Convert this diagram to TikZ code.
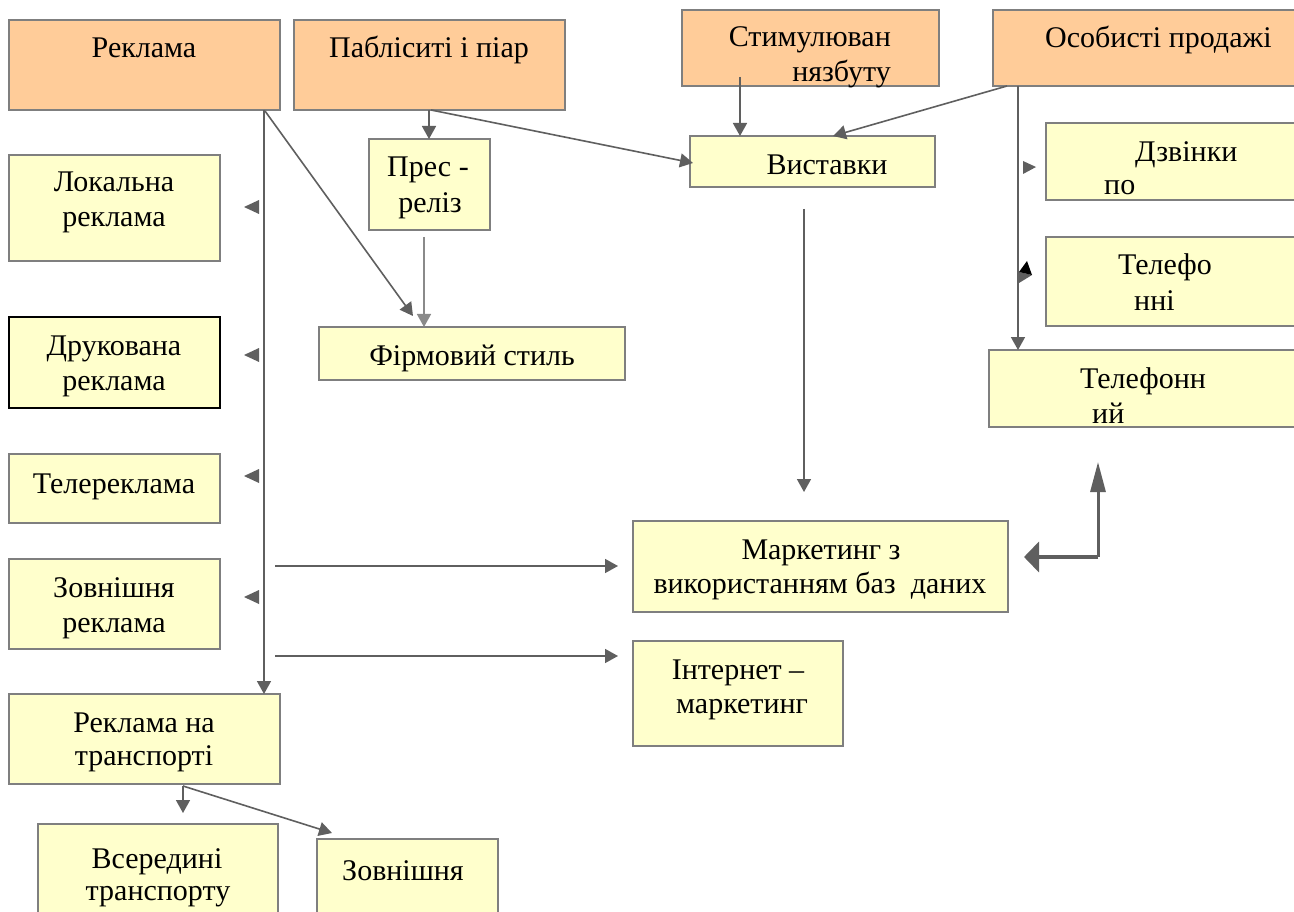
\documentclass[tikz,border=0pt]{standalone}
\usepackage{fontspec}
\setmainfont{Liberation Serif}
\usetikzlibrary{arrows.meta,calc}
\definecolor{orangebox}{HTML}{FFCC99}
\definecolor{yellowbox}{HTML}{FFFFCC}
\definecolor{boxline}{HTML}{7F7F7F}
\definecolor{arrc}{HTML}{5F5F5F}
\definecolor{arrlight}{HTML}{8A8A8A}
\tikzset{
  box/.style={draw=boxline, line width=2pt, anchor=north west, inner sep=0pt, outer sep=0pt},
  obox/.style={box, fill=orangebox},
  ybox/.style={box, fill=yellowbox},
  txt/.style={font=\fontsize{30}{35}\selectfont, inner sep=0pt, anchor=base},
  arr/.style={draw=arrc, line width=1.6pt, -{Triangle[length=13pt,width=14pt]}},
  tip/.style={fill=arrc},
}
\begin{document}
\begin{tikzpicture}[x=1pt,y=-1pt]
\useasboundingbox (0,0) rectangle (1294,912);
\clip (0,0) rectangle (1294,912);
\fill[white] (0,0) rectangle (1294,912);

% boxes
\node[obox, minimum width=271pt, minimum height=90pt] (rek) at (9,20) {};
\node[obox, minimum width=271pt, minimum height=90pt] (pab) at (294,20) {};
\node[obox, minimum width=257pt, minimum height=76pt] (stim) at (682,10) {};
\node[obox, minimum width=320pt, minimum height=76pt] (osob) at (993,10) {};
\node[ybox, minimum width=121pt, minimum height=91pt] (pres) at (369,139) {};
\node[ybox, minimum width=245pt, minimum height=51pt] (vyst) at (690,136) {};
\node[ybox, minimum width=211pt, minimum height=106pt] (lok) at (9,155) {};
\node[ybox, minimum width=260pt, minimum height=77pt] (dzv) at (1046,123) {};
\node[ybox, minimum width=260pt, minimum height=89pt] (telfo) at (1046,237) {};
\node[ybox, minimum width=306pt, minimum height=53pt] (firm) at (319,327) {};
\node[ybox, draw=black, minimum width=211pt, minimum height=91pt] (druk) at (9,317) {};
\node[ybox, minimum width=320pt, minimum height=77pt] (telfon) at (989,350) {};
\node[ybox, minimum width=211pt, minimum height=69pt] (telr) at (9,454) {};
\node[ybox, minimum width=375pt, minimum height=91pt] (mark) at (633,521) {};
\node[ybox, minimum width=211pt, minimum height=90pt] (zovn) at (9,559) {};
\node[ybox, minimum width=210pt, minimum height=105pt] (inet) at (633,641) {};
\node[ybox, minimum width=271pt, minimum height=90pt] (trans) at (9,694) {};
\node[ybox, minimum width=240pt, minimum height=100pt] (vser) at (38,824) {};
\node[ybox, minimum width=181pt, minimum height=90pt] (zovt) at (317,839) {};

% texts
\node[txt] (t-rek) at (144,58) {Реклама};
\node[txt] (t-pab) at (429,58) {Пабліситі і піар};
\node[txt, anchor=base east] (t-stim1) at (891,47) {Стимулюван};
\node[txt, anchor=base east] (t-stim2) at (891,82) {нязбуту};
\node[txt, anchor=base west] (t-osob) at (1045,48) {Особисті продажі};
\node[txt] (t-pres1) at (428,177) {Прес -};
\node[txt] (t-pres2) at (430,213) {реліз};
\node[txt] (t-vyst) at (827,175) {Виставки};
\node[txt] (t-lok1) at (114,192) {Локальна};
\node[txt] (t-lok2) at (114,227) {реклама};
\node[txt, anchor=base west] (t-dzv1) at (1135,162) {Дзвінки};
\node[txt, anchor=base west] (t-dzv2) at (1104,195) {по};
\node[txt, anchor=base west] (t-telfo1) at (1118,275) {Телефо};
\node[txt, anchor=base west] (t-telfo2) at (1134,310) {нні};
\node[txt] (t-firm) at (472,365) {Фірмовий стиль};
\node[txt] (t-druk1) at (114,355) {Друкована};
\node[txt] (t-druk2) at (114,390) {реклама};
\node[txt, anchor=base west] (t-telfon1) at (1080,388) {Телефонн};
\node[txt, anchor=base west] (t-telfon2) at (1092,423) {ий};
\node[txt] (t-telr) at (114,493) {Телереклама};
\node[txt] (t-mark1) at (821,559) {Маркетинг з};
\node[txt] (t-mark2) at (820,593) {використанням баз\ \ даних};
\node[txt] (t-zovn1) at (114,597) {Зовнішня};
\node[txt] (t-zovn2) at (114,632) {реклама};
\node[txt] (t-inet1) at (738,679) {Інтернет –};
\node[txt] (t-inet2) at (742,713) {маркетинг};
\node[txt] (t-trans1) at (144,732) {Реклама на};
\node[txt] (t-trans2) at (144,765) {транспорті};
\node[txt] (t-vser1) at (157,868) {Всередині};
\node[txt] (t-vser2) at (158,900) {транспорту};
\node[txt] (t-zovt) at (403,880) {Зовнішня};

% connector anchor points
\coordinate (rekOut) at (264,110);
\coordinate (rekDiag) at (265,111);
\coordinate (pabOut) at (429,110);
\coordinate (presOut) at (424,237);
\coordinate (stimOut) at (740,77);
\coordinate (osobOutA) at (1007,86);
\coordinate (osobOut) at (1018,86);
\coordinate (vystOut) at (804,209);
\coordinate (transOut) at (183,786);
\coordinate (hA) at (275,566);
\coordinate (hAend) at (618,566);
\coordinate (hB) at (275,656);
\coordinate (hBend) at (618,656);
\coordinate (elbow) at (1098,557);

% Реклама trunk
\draw[arr] (rekOut) -- (rekOut |- trans.north);
\foreach \yy in {207,355,476,597}
  \fill[tip] (259,\yy-7) -- (244,\yy) -- (259,\yy+7) -- cycle;
\draw[arr] (rekDiag) -- (413,316);
\draw[arr] (hA) -- (hAend);
\draw[arr] (hB) -- (hBend);

% Пабліситі
\draw[arr] (pabOut) -- (pabOut |- pres.north);
\draw[arr] (431,110) -- (693,163);
\draw[arr, draw=arrlight] (presOut) -- (presOut |- firm.north);

% Стимулювання, Особисті
\draw[arr] (stimOut) -- (stimOut |- vyst.north);
\draw[arr] (osobOutA) -- (833,136);
\draw[arr] (osobOut) -- (osobOut |- telfon.north);
\fill[tip] (1023,161) -- (1036,167) -- (1023,174) -- cycle;
\fill[tip] (1019,272) -- (1032,275) -- (1019,283) -- cycle;
\fill[black] (1027,261) -- (1032,275) -- (1019,272) -- cycle;

% Виставки -> Маркетинг
\draw[arr] (vystOut) -- (804,492);

% elbow double arrow
\draw[draw=arrc, line width=3pt, -{Triangle[length=30pt,width=15pt]}] (elbow) -- (1098,462);
\draw[draw=arrc, line width=4pt, -{Triangle[length=15pt,width=30pt]}] (elbow) -- (1024,557);

% Реклама на транспорті
\draw[arr] (transOut) -- (183,813);
\draw[arr] (transOut) -- (332,833);
\end{tikzpicture}
\end{document}
